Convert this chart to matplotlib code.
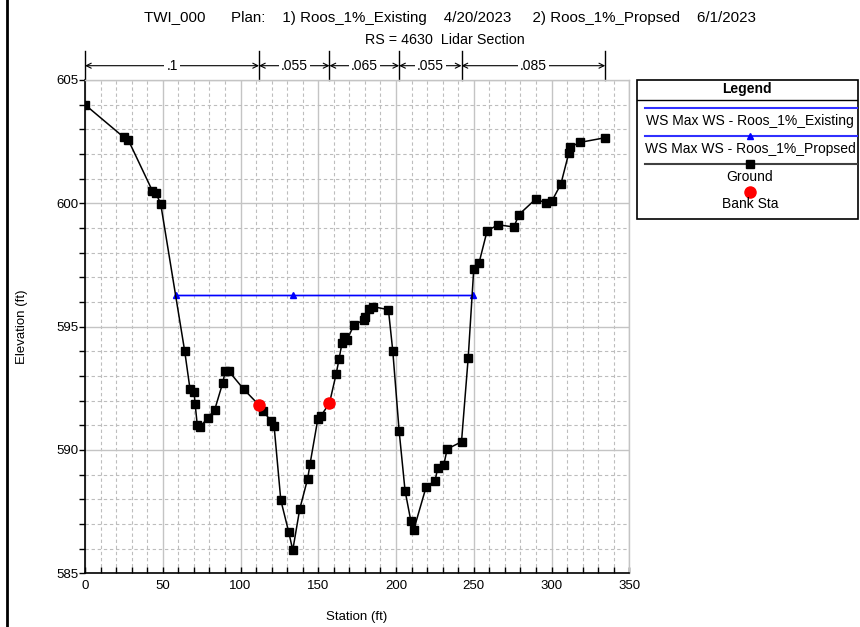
import matplotlib
matplotlib.use("Agg")
import matplotlib.pyplot as plt
from matplotlib.lines import Line2D
from matplotlib.patches import Rectangle
import matplotlib.transforms as mtransforms
from matplotlib.ticker import MultipleLocator

plt.rcParams['font.family'] = ['Liberation Sans', 'DejaVu Sans']

# cross section RS 4630, ground points
station = [0, 25.1, 27.9, 43.3, 45.5, 48.7, 64.1, 67.5, 70.1, 70.8, 72.2, 74.0,
           79.1, 83.4, 88.6, 90.2, 92.4, 102.1, 111.9, 114.3, 119.4, 121.6, 125.9,
           131.0, 133.6, 138.1, 143.2, 144.7, 149.7, 151.8, 157.2, 161.5, 163.4,
           165.3, 166.8, 168.5, 173.0, 179.5, 179.9, 182.9, 185.0, 195.1, 197.9,
           202.0, 205.8, 209.5, 211.4, 219.4, 225.1, 226.8, 230.7, 232.9, 242.1,
           246.4, 250.0, 253.4, 258.6, 265.7, 275.8, 279.0, 289.9, 296.3, 300.2,
           306.0, 311.1, 312.0, 318.2, 334.5]
elevation = [604.0, 602.67, 602.56, 600.51, 600.43, 599.97, 594.01, 592.48, 592.36,
             591.87, 591.01, 590.94, 591.31, 591.63, 592.73, 593.2, 593.2, 592.46,
             591.82, 591.6, 591.19, 590.97, 587.97, 586.67, 585.94, 587.61, 588.84,
             589.43, 591.25, 591.39, 591.9, 593.08, 593.7, 594.35, 594.57, 594.46,
             595.08, 595.27, 595.4, 595.73, 595.81, 595.69, 594.02, 590.77, 588.35,
             587.13, 586.77, 588.51, 588.75, 589.27, 589.39, 590.04, 590.33, 593.73,
             597.35, 597.59, 598.89, 599.13, 599.04, 599.54, 600.18, 600.01, 600.09,
             600.78, 602.04, 602.28, 602.47, 602.66]

# bank stations
bank_sta = [111.9, 157.2]
bank_elev = [591.82, 591.9]

# max water surface for both plans
ws_exist_sta = [58.3, 249.2]
ws_exist_elev = [596.28, 596.28]
ws_prop_sta = [58.3, 133.6, 249.2]
ws_prop_elev = [596.28, 596.28, 596.28]

# manning's n break points
n_sta = [0, 111.9, 157.2, 202.0, 242.1, 334.5]
n_val = [".1", ".055", ".065", ".055", ".085"]

W, H = 860, 627
fig = plt.figure(figsize=(W / 100, H / 100), dpi=100)
ax = fig.add_axes([85 / W, (H - 573.3) / H, 544.3 / W, 493.3 / H])

ax.plot(ws_exist_sta, ws_exist_elev, color="blue", lw=1, zorder=3)
ax.plot(ws_prop_sta, ws_prop_elev, color="blue", lw=1, marker="^", ms=4.8, zorder=3)
ax.plot(station, elevation, color="black", lw=1.1, marker="s", ms=5.4, zorder=4)
ax.plot(bank_sta, bank_elev, ls="none", marker="o", color="red", ms=8, zorder=5)

ax.set_xlim(0, 350)
ax.set_ylim(585, 605)
ax.xaxis.set_major_locator(MultipleLocator(50))
ax.xaxis.set_minor_locator(MultipleLocator(10))
ax.yaxis.set_major_locator(MultipleLocator(5))
ax.yaxis.set_minor_locator(MultipleLocator(1))
ax.grid(which="major", color="#c4c4c4", lw=1, ls="-")
ax.grid(which="minor", color="#bdbdbd", lw=0.8, ls=(0, (3, 2.5)))
ax.set_axisbelow(True)

ax.tick_params(axis="x", which="both", direction="in", length=4, width=1, pad=5,
               labelsize=9.5, top=False)
ax.tick_params(axis="y", which="both", direction="out", length=4, width=1, pad=1,
               labelsize=9.5, right=False)
for side in ["left", "bottom"]:
    ax.spines[side].set_color("black")
    ax.spines[side].set_linewidth(1.2)
for side in ["top", "right"]:
    ax.spines[side].set_color("#c4c4c4")
    ax.spines[side].set_linewidth(1)

fig.text(357 / W, 1 - 617 / H, "Station (ft)", ha="center", va="center", fontsize=9.5)
fig.text(22 / W, 1 - 326.7 / H, "Elevation (ft)", ha="center", va="center",
         rotation=90, fontsize=9.5)

# manning's n bar above the plot
trans = mtransforms.blended_transform_factory(ax.transData, ax.transAxes)
y_arrow = 1.029
for s in n_sta:
    ax.plot([s, s], [1.0, 1.058], transform=trans, color="black", lw=1, clip_on=False)
for i, lab in enumerate(n_val):
    x0, x1 = n_sta[i], n_sta[i + 1]
    ax.annotate("", xy=(x1, y_arrow), xytext=(x0, y_arrow), xycoords=trans,
                textcoords=trans,
                arrowprops=dict(arrowstyle="<->", lw=0.8, color="black",
                                shrinkA=0, shrinkB=0, mutation_scale=9))
    ax.text((x0 + x1) / 2, y_arrow, lab, transform=trans, ha="center", va="center",
            fontsize=10, bbox=dict(fc="white", ec="none", pad=1.5))

# titles
fig.text(450 / W, 1 - 18 / H,
         "TWI_000      Plan:    1) Roos_1%_Existing    4/20/2023     "
         "2) Roos_1%_Propsed    6/1/2023",
         ha="center", va="center", fontsize=10.9)
fig.text(445 / W, 1 - 40 / H, "RS = 4630  Lidar Section", ha="center", va="center",
         fontsize=10.3)

# legend panel
lg = fig.add_axes([636.7 / W, (H - 219) / H, (858 - 636.7) / W, (219 - 80) / H])
lg.set_xlim(636.7, 858)
lg.set_ylim(219, 80)
lg.axis("off")
lg.add_patch(Rectangle((636.7, 80), 858 - 636.7, 139, fill=False, ec="black", lw=1.2,
                       clip_on=False))
lg.plot([636.7, 858], [99.5, 99.5], color="black", lw=1)
lg.text(747, 89, "Legend", ha="center", va="center", fontsize=10, fontweight="bold")
lg.plot([645, 857], [107.7, 107.7], color="#3030ff", lw=1.5)
lg.text(750, 121, "WS Max WS - Roos_1%_Existing", ha="center", va="center", fontsize=10)
lg.plot([645, 857], [135.7, 135.7], color="#3030ff", lw=1.5)
lg.plot([750], [135.7], marker="^", color="blue", ms=4.8)
lg.text(750, 148.5, "WS Max WS - Roos_1%_Propsed", ha="center", va="center", fontsize=10)
lg.plot([645, 857], [164, 164], color="#404040", lw=1.5)
lg.plot([750], [164], marker="s", color="black", ms=5.4)
lg.text(750, 177, "Ground", ha="center", va="center", fontsize=10)
lg.plot([750], [191.7], marker="o", color="red", ms=8)
lg.text(750, 204, "Bank Sta", ha="center", va="center", fontsize=10)

# frame edge at left of the window
fig.add_artist(Line2D([7 / W, 7 / W], [0, 1], color="black", lw=2))

fig.savefig("out.png", dpi=100)
